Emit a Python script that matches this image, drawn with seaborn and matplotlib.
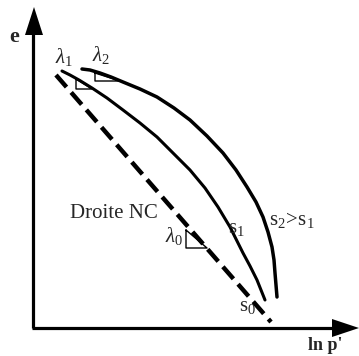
import matplotlib
matplotlib.use("Agg")
import matplotlib.pyplot as plt
import seaborn as sns
import pandas as pd

sns.set_theme(style="white")
plt.rcParams["font.family"] = ["Liberation Serif", "DejaVu Serif"]
plt.rcParams["mathtext.fontset"] = "custom"
plt.rcParams["mathtext.rm"] = "Liberation Serif"
plt.rcParams["mathtext.it"] = "Liberation Serif:italic"

# Schematic e - ln p' plane (arbitrary units, e grows upward)
H = 356
# normal consolidation line (Droite NC)
nc_lnp = [56, 271]
nc_e = [H - 75, H - 322]
# curve s1
s1_lnp = [62, 70, 79, 92, 107, 123, 140, 157, 173, 190, 205, 218, 230, 243, 250, 257, 265]
s1_e = [H - v for v in [71, 75, 80, 88, 98, 110, 123, 137, 153, 170, 188, 207, 227, 253,
                        266, 280, 300]]
# curve s2 > s1
s2_lnp = [82, 90, 100, 111, 123, 140, 157, 174, 190, 207, 223, 236, 247, 256, 263, 268,
          272, 274, 275, 277]
s2_e = [H - v for v in [69, 70, 73, 77, 82, 89, 97, 108, 120, 136, 153, 170, 187, 202,
                        217, 232, 247, 260, 273, 297]]

# slope triangles (lambda_1, lambda_2, lambda_0)
tri1_lnp = [76, 76, 92, 76]
tri1_e = [H - v for v in [79, 89, 89, 79]]
tri2_lnp = [95, 95, 120, 95]
tri2_e = [H - v for v in [73, 81, 81, 73]]
tri0_lnp = [186, 186, 207, 186]
tri0_e = [H - v for v in [230, 248, 248, 230]]

fig = plt.figure(figsize=(3.59, 3.56), dpi=100)
ax = fig.add_axes([0, 0, 1, 1])
ax.set_xlim(0, 359)
ax.set_ylim(0, 356)
ax.axis("off")

k = "black"

# axes with arrow heads
ax.plot([33, 33], [H - 328, H - 30], color=k, lw=2.3, solid_capstyle="butt")
ax.plot([32, 335], [H - 328, H - 328], color=k, lw=2.3, solid_capstyle="butt")
ax.fill([25, 43, 34], [H - 35, H - 35, H - 7], color=k, lw=0)
ax.fill([332, 332, 359], [H - 319, H - 337, H - 328], color=k, lw=0)

# curves
df1 = pd.DataFrame({"lnp": s1_lnp, "e": s1_e})
df2 = pd.DataFrame({"lnp": s2_lnp, "e": s2_e})
dnc = pd.DataFrame({"lnp": nc_lnp, "e": nc_e})
sns.lineplot(data=df1, x="lnp", y="e", sort=False, estimator=None, color=k, lw=2.2,
             solid_joinstyle="round", solid_capstyle="round", ax=ax)
sns.lineplot(data=df2, x="lnp", y="e", sort=False, estimator=None, color=k, lw=2.5,
             solid_joinstyle="round", solid_capstyle="round", ax=ax)
sns.lineplot(data=dnc, x="lnp", y="e", sort=False, estimator=None, color=k, lw=3.2,
             linestyle=(0, (3.6, 1.6)), dash_capstyle="butt", ax=ax)

for tx, ty in [(tri1_lnp, tri1_e), (tri2_lnp, tri2_e), (tri0_lnp, tri0_e)]:
    ax.plot(tx, ty, color=k, lw=1.0)

# labels
ax.text(14, H - 37, "e", fontsize=16, fontweight="bold", ha="center", va="center")
ax.text(64, H - 57, r"$\lambda_1$", fontsize=15, ha="center", va="center")
ax.text(101, H - 55, r"$\lambda_2$", fontsize=15, ha="center", va="center")
ax.text(174, H - 236, r"$\lambda_0$", fontsize=15, ha="center", va="center")
ax.text(114, H - 214, "Droite NC", fontsize=15, ha="center", va="center")
ax.text(236, H - 229, r"$\mathrm{s}_1$", fontsize=15, ha="center", va="center")
ax.text(292, H - 220, r"$\mathrm{s}_2\!>\!\mathrm{s}_1$", fontsize=15, ha="center", va="center")
ax.text(247, H - 307, r"$\mathrm{s}_0$", fontsize=15, ha="center", va="center")
ax.text(325, H - 346, "ln p'", fontsize=13, fontweight="bold", ha="center", va="center")

fig.savefig("out.png", dpi=100)
